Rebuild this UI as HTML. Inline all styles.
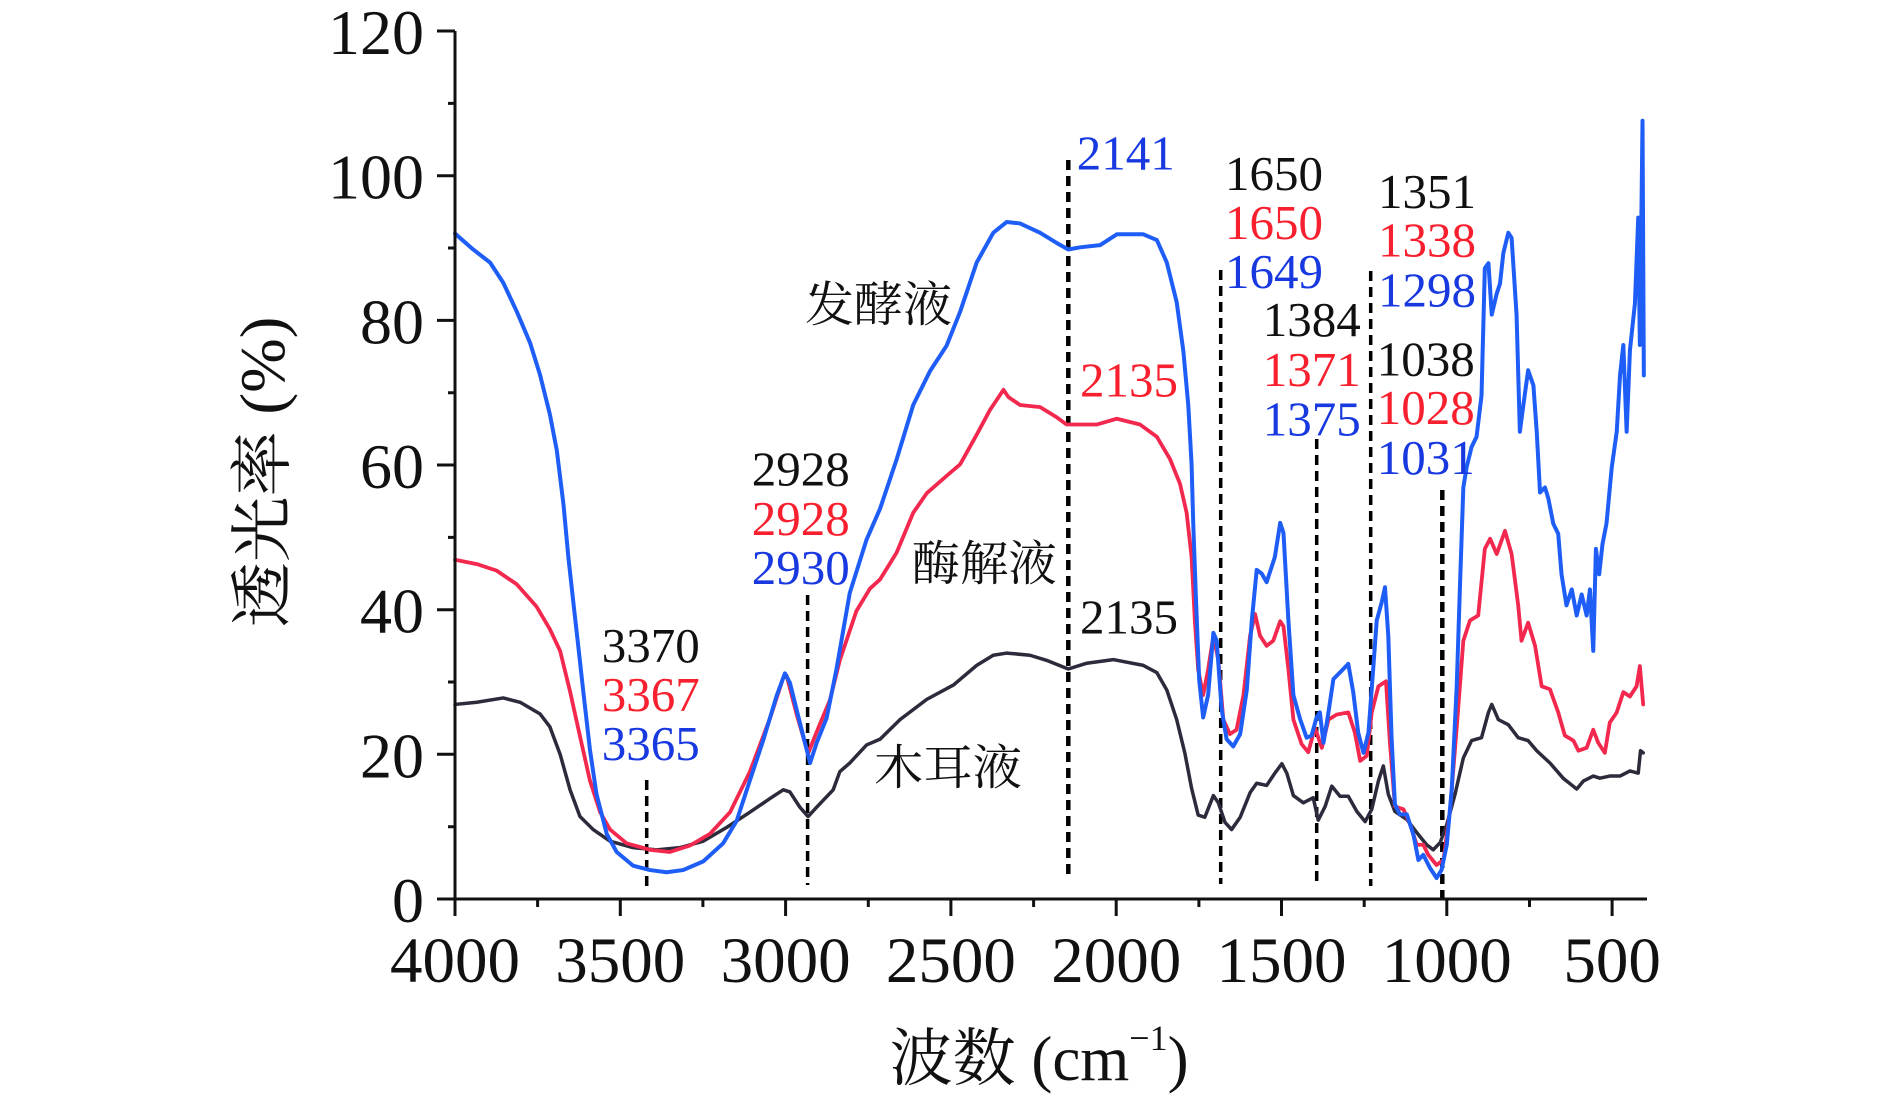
<!DOCTYPE html>
<html><head><meta charset="utf-8"><style>
html,body{margin:0;padding:0;background:#fff;}
svg{display:block;}
.t{font-family:"Liberation Serif","Noto Serif CJK SC",serif;}
.c{font-family:"Liberation Serif","Noto Serif CJK SC",serif;}
</style></head><body>
<svg width="1890" height="1100" viewBox="0 0 1890 1100" xmlns="http://www.w3.org/2000/svg">
<rect width="1890" height="1100" fill="#fff"/>

<!-- dashed marker lines -->
<g stroke="#000" stroke-dasharray="10 6" fill="none">
<line x1="646.7" y1="780" x2="646.7" y2="887" stroke-width="3.5"/>
<line x1="807.6" y1="595" x2="807.6" y2="885" stroke-width="3.5"/>
<line x1="1068.3" y1="160" x2="1068.3" y2="880" stroke-width="4.5"/>
<line x1="1220.7" y1="270" x2="1220.7" y2="884" stroke-width="3.5"/>
<line x1="1316.7" y1="439" x2="1316.7" y2="886" stroke-width="3.5"/>
<line x1="1370.7" y1="271" x2="1370.7" y2="886" stroke-width="3.5"/>
<line x1="1442.3" y1="490" x2="1442.3" y2="898" stroke-width="4.5"/>
</g>

<!-- curves in data coordinates -->
<g transform="matrix(-0.3306 0 0 -7.233 1777.4 899)" fill="none" stroke-linejoin="round" stroke-linecap="round">
<polyline vector-effect="non-scaling-stroke" stroke="#2b2b3b" stroke-width="3.5" points="4000,26.9 3934,27.2 3854,27.8 3803,27.2 3743,25.6 3713,23.8 3682,20 3652,15.1 3622,11.4 3582,9.6 3531,8 3461,7.1 3390,6.8 3320,7.1 3249,8 3178,9.9 3108,12 3047,13.9 3007,15.1 2987,14.8 2957,12.7 2932,11.4 2906,12.7 2856,15.1 2836,17.6 2806,18.8 2755,21.3 2714,22.1 2654,24.8 2573,27.6 2492,29.6 2422,32.3 2372,33.7 2331,34 2261,33.7 2211,33 2145,31.8 2089,32.6 2009,33.1 1918,32.3 1877,31.3 1847,28.9 1817,24.8 1792,20.1 1772,15.3 1752,11.6 1732,11.3 1706,14.3 1691,13.3 1671,10.6 1651,9.6 1625,11.3 1595,14.7 1575,16 1545,15.7 1520,17.4 1499,18.7 1484,17.4 1464,14.3 1434,13.3 1404,14 1389,10.9 1368,12.8 1348,15.6 1323,14.2 1298,14.2 1272,12.1 1247,10.7 1227,12.4 1207,16.3 1192,18.4 1177,14.5 1157,12.1 1121,11 1086,8.9 1061,7.5 1041,6.8 1020,7.8 1000,10.3 975,14.5 950,19.5 925,21.9 895,22.3 874,25.8 864,26.9 844,24.8 814,24.1 784,22.3 754,21.9 728,20.5 688,18.8 648,16.7 607,15.2 587,16.3 557,17 537,16.7 507,17 476,17 446,17.7 421,17.4 414,20.5 406,20.2"/>
<polyline vector-effect="non-scaling-stroke" stroke="#f2284e" stroke-width="3.8" points="4000,46.9 3934,46.3 3874,45.4 3813,43.5 3753,40.4 3713,37.3 3682,34.3 3652,28.7 3622,22.5 3592,16.4 3561,12 3531,9.6 3481,7.7 3410,6.8 3350,6.5 3289,7.4 3229,9 3168,12 3108,17.6 3047,25 3007,30.6 2997,30.9 2967,25.6 2932,20.1 2906,23.1 2866,27.5 2836,33 2786,39.8 2745,42.9 2714,44.2 2664,47.9 2614,53.4 2573,56.1 2513,58.5 2472,60.1 2422,64.2 2382,67.6 2341,70.4 2326,69.4 2291,68.3 2230,68 2180,66.6 2150,65.6 2059,65.6 1998,66.4 1928,65.6 1877,63.9 1837,60.8 1807,57.4 1787,53.4 1772,47.3 1762,38.4 1752,31.7 1737,28.2 1722,31.7 1706,36.4 1691,33 1676,24.8 1656,22.8 1636,23.4 1615,28.2 1595,36.4 1580,39.4 1565,36.4 1545,35 1525,35.7 1504,38.4 1494,37.7 1479,31.7 1464,24.8 1439,21.4 1419,20.3 1399,23.7 1378,20.9 1358,24.8 1333,25.5 1298,25.8 1278,23 1262,19.1 1242,19.8 1227,25.8 1207,29.4 1184,30.1 1172,21.6 1157,12.8 1131,12.4 1111,10.3 1091,7.5 1071,7.5 1056,6.1 1031,4.7 1010,5.4 990,12.4 970,23.7 950,35.7 930,38.5 905,39.2 885,48.4 869,49.8 849,47.7 824,50.9 804,47.7 784,40.6 774,35.7 754,38.2 733,35 713,29.4 688,29 663,25.8 643,22.6 617,21.9 602,20.5 577,20.9 557,23.4 542,21.6 522,20.2 507,24.4 486,25.8 466,28.6 446,28 426,29.4 416,32.2 406,26.9"/>
<polyline vector-effect="non-scaling-stroke" stroke="#1e5ef7" stroke-width="4" points="4000,92 3945,89.8 3894,88 3854,85.2 3813,81.2 3773,76.9 3743,72.5 3713,67 3692,62 3672,54.6 3657,47.2 3642,41 3627,34.9 3612,28.7 3592,20.7 3572,14.5 3541,9 3511,6.5 3461,4.6 3410,4 3360,3.7 3310,4 3249,5.2 3189,7.7 3148,10.8 3108,16.4 3068,21.9 3027,28.1 3002,31.2 2987,29.9 2957,24.4 2926,18.8 2906,21.6 2876,25 2846,31.8 2806,42.3 2755,49.7 2714,54 2664,60.8 2614,68.3 2563,73 2513,76.5 2472,81.2 2422,88 2372,92.1 2331,93.6 2291,93.4 2230,92.1 2180,90.7 2145,89.8 2109,90.1 2049,90.4 1998,91.9 1918,91.9 1877,91.1 1847,88 1817,82.5 1797,75.8 1782,68.3 1772,60.1 1767,52 1759,41.8 1749,30.3 1737,25.1 1722,28.2 1706,36.8 1696,35.7 1681,26.2 1666,22.1 1646,21.1 1625,22.8 1605,28.9 1590,38.4 1575,45.5 1560,45 1545,43.8 1520,47.3 1504,52 1494,50.6 1479,38.4 1464,28.2 1444,24.9 1424,22.3 1409,22.6 1394,25.1 1384,25.8 1373,21.6 1358,25.8 1343,30.4 1313,31.8 1298,32.5 1283,28.6 1268,23 1252,20.2 1237,23 1222,32.2 1212,38.5 1197,41 1187,43.1 1177,36.4 1167,22.3 1157,13.1 1142,11.7 1121,11.7 1101,8.9 1086,5.4 1071,6.1 1051,4.3 1031,2.9 1016,4 1000,7.5 985,15.2 970,29.4 960,43.5 950,56.9 940,59.7 925,62.5 910,63.9 895,69.6 885,87.2 874,87.9 864,80.8 849,83.7 839,85.1 829,89.3 814,92.1 804,91.4 789,80.8 779,64.6 769,68.1 754,73.1 738,71 728,64.6 718,56.2 703,56.9 693,55.4 678,51.9 663,50.5 653,44.9 638,40.6 622,42.8 607,39.2 592,42.1 577,39.2 567,42.8 557,34.3 549,48.4 539,44.9 529,49.1 517,51.9 501,59.7 486,64.6 476,72.4 466,76.6 456,64.6 446,75.9 431,82.3 421,94.2 416,76.6 408,107.6 404,72.4"/>
</g>

<!-- axes -->
<g stroke="#111" stroke-width="3" fill="none">
<path d="M455 31 V916 M437 899 H1647"/>
<path d="M437 31 H455 M437 175.7 H455 M437 320.4 H455 M437 465 H455 M437 609.7 H455 M437 754.3 H455"/>
<path d="M448 103.4 H455 M448 248 H455 M448 392.7 H455 M448 537.4 H455 M448 682 H455 M448 826.7 H455"/>
<path d="M620.3 899 V916 M785.6 899 V916 M950.9 899 V916 M1116.2 899 V916 M1281.5 899 V916 M1446.8 899 V916 M1612.1 899 V916"/>
<path d="M537.6 899 V907 M702.9 899 V907 M868.3 899 V907 M1033.6 899 V907 M1198.9 899 V907 M1364.2 899 V907 M1529.5 899 V907"/>
</g>

<!-- tick labels -->
<g class="t" font-size="64" fill="#111" text-anchor="end">
<text x="424" y="54">120</text>
<text x="424" y="198.7">100</text>
<text x="424" y="343.4">80</text>
<text x="424" y="488">60</text>
<text x="424" y="632.7">40</text>
<text x="424" y="777.3">20</text>
<text x="424" y="922">0</text>
</g>
<g class="t" font-size="65" fill="#111" text-anchor="middle">
<text x="455" y="982">4000</text>
<text x="620.3" y="982">3500</text>
<text x="785.6" y="982">3000</text>
<text x="950.9" y="982">2500</text>
<text x="1116.2" y="982">2000</text>
<text x="1281.5" y="982">1500</text>
<text x="1446.8" y="982">1000</text>
<text x="1612.1" y="982">500</text>
</g>

<!-- axis titles -->
<text class="c" transform="translate(284 472) rotate(-90)" font-size="63" fill="#111" text-anchor="middle" textLength="311" lengthAdjust="spacingAndGlyphs">透光率 (%)</text>
<text class="c" x="889.6" y="1080" font-size="63" fill="#111">波数 (cm<tspan font-size="36" dy="-30">−1</tspan><tspan dy="30">)</tspan></text>

<!-- peak labels -->
<g class="t" font-size="49">
<text x="601.7" y="662" fill="#111">3370</text>
<text x="601.7" y="711" fill="#f8202f">3367</text>
<text x="601.7" y="760" fill="#1838e0">3365</text>

<text x="751.7" y="485.7" fill="#111">2928</text>
<text x="751.7" y="534.8" fill="#f8202f">2928</text>
<text x="751.7" y="584" fill="#1838e0">2930</text>

<text x="1076.7" y="169.3" fill="#1838e0">2141</text>
<text x="1080" y="396.7" fill="#f8202f">2135</text>
<text x="1080" y="633.4" fill="#111">2135</text>

<text x="1225" y="190" fill="#111">1650</text>
<text x="1225" y="239" fill="#f8202f">1650</text>
<text x="1225" y="288" fill="#1838e0">1649</text>

<text x="1262.7" y="336" fill="#111">1384</text>
<text x="1262.7" y="386" fill="#f8202f">1371</text>
<text x="1262.7" y="435.5" fill="#1838e0">1375</text>

<text x="1378" y="208" fill="#111">1351</text>
<text x="1378" y="256.6" fill="#f8202f">1338</text>
<text x="1378" y="306.6" fill="#1838e0">1298</text>

<text x="1376.7" y="375.5" fill="#111">1038</text>
<text x="1376.7" y="424" fill="#f8202f">1028</text>
<text x="1376.7" y="474" fill="#1838e0">1031</text>
</g>

<!-- series names -->
<g class="c" font-size="48" fill="#111">
<text x="805" y="321" textLength="147" lengthAdjust="spacingAndGlyphs">发酵液</text>
<text x="911.7" y="580" textLength="145" lengthAdjust="spacingAndGlyphs">酶解液</text>
<text x="874" y="784" textLength="148" lengthAdjust="spacingAndGlyphs">木耳液</text>
</g>
</svg>
</body></html>
